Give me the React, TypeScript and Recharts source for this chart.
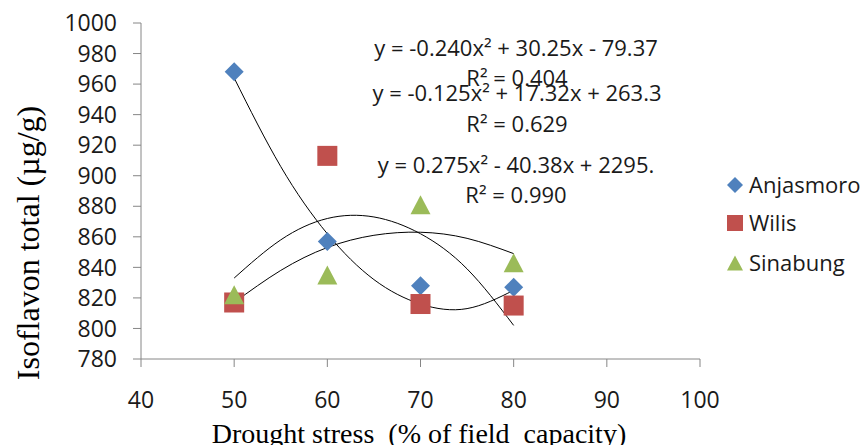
import React from 'react';
import { ComposedChart, Scatter, Line, XAxis, YAxis, Customized } from 'recharts';

// Measured points (drought stress % of field capacity -> isoflavon total µg/g)
const stressLevels = [50, 60, 70, 80];
const anjasmoro = [968, 857, 828, 827];
const wilis = [817, 913, 816, 815];
const sinabung = [822, 835, 881, 843];

// Polynomial trend lines
const trendX = [50, 55, 60, 65, 70, 75, 80];
const trendAnjasmoro = [964, 906, 862, 832, 816, 813, 825];
const trendWilis = [833, 858, 872, 873, 862, 839, 802];
const trendSinabung = [817, 838, 853, 861, 863, 859, 849];

const xTicks = [40, 50, 60, 70, 80, 90, 100];
const yTicks = [780, 800, 820, 840, 860, 880, 900, 920, 940, 960, 980, 1000];

const seriesNames = ['Anjasmoro', 'Wilis', 'Sinabung'];
const seriesColors = ['#4F81BD', '#C0504D', '#9BBB59'];
const equationLabels = [
  'y = -0.240x² + 30.25x - 79.37',
  'R² = 0.404',
  'y = -0.125x² + 17.32x + 263.3',
  'R² = 0.629',
  'y = 0.275x² - 40.38x + 2295.',
  'R² = 0.990',
];

const xTitle = 'Drought stress  (% of field  capacity)';
const yTitle = 'Isoflavon total (µg/g)';

const toPoints = (xs: number[], ys: number[]) => xs.map((x, i) => ({ x, y: ys[i] }));

const FONT = '"Open Sans", sans-serif';
const SERIF = '"Liberation Serif", "Times New Roman", serif';

const diamondPath = (cx: number, cy: number, r: number) =>
  `${cx},${cy - r} ${cx + r},${cy} ${cx},${cy + r} ${cx - r},${cy}`;
const trianglePath = (cx: number, cy: number, w: number, h: number) =>
  `${cx},${cy - h / 2} ${cx + w / 2},${cy + h / 2} ${cx - w / 2},${cy + h / 2}`;

const DiamondShape = (p: any) => (
  <polygon points={diamondPath(p.cx, p.cy, 9.5)} fill={seriesColors[0]} />
);
const SquareShape = (p: any) => (
  <rect x={p.cx - 10} y={p.cy - 10} width={20} height={20} fill={seriesColors[1]} />
);
const TriangleShape = (p: any) => (
  <polygon points={trianglePath(p.cx, p.cy, 20, 19)} fill={seriesColors[2]} />
);

const equationPos = [
  [516, 56],
  [517, 86],
  [517, 101],
  [517, 132],
  [516, 173],
  [516, 203],
];

const Overlay = () => {
  const legendRows = [185, 223, 263];
  return (
    <g>
      {equationLabels.map((t, i) => (
        <text
          key={i}
          x={equationPos[i][0]}
          y={equationPos[i][1]}
          textAnchor="middle"
          fontFamily={FONT}
          fontSize={22}
          fill="#1a1a1a"
        >
          {t}
        </text>
      ))}
      {seriesNames.map((name, i) => {
        const cy = legendRows[i];
        const cx = 735;
        let icon;
        if (i === 0) icon = <polygon points={diamondPath(cx, cy, 8)} fill={seriesColors[0]} />;
        else if (i === 1) icon = <rect x={cx - 8} y={cy - 8} width={16} height={16} fill={seriesColors[1]} />;
        else icon = <polygon points={trianglePath(cx, cy, 16, 15)} fill={seriesColors[2]} />;
        return (
          <g key={name}>
            {icon}
            <text x={749} y={cy + 8} fontFamily={FONT} fontSize={22} fill="#1a1a1a">
              {name}
            </text>
          </g>
        );
      })}
      <text
        x={419}
        y={443}
        textAnchor="middle"
        fontFamily={SERIF}
        fontSize={28}
        fill="#000"
        style={{ whiteSpace: 'pre' }}
      >
        {xTitle}
      </text>
      <text
        x={39}
        y={243}
        textAnchor="middle"
        fontFamily={SERIF}
        fontSize={32}
        fill="#000"
        transform="rotate(-90 39 243)"
      >
        {yTitle}
      </text>
    </g>
  );
};

export default function App() {
  const tickStyle = { fontFamily: FONT, fontSize: 23, fill: '#1a1a1a' };
  return (
    <div style={{ position: 'absolute', left: 0, top: 0 }}>
      <ComposedChart width={865} height={445} margin={{ top: 23, right: 165, bottom: 0, left: 0 }}>
        <XAxis
          type="number"
          dataKey="x"
          domain={[40, 100]}
          ticks={xTicks}
          interval={0}
          height={86}
          tickSize={8}
          tickMargin={25}
          stroke="#868686"
          tick={tickStyle}
          allowDataOverflow
        />
        <YAxis
          type="number"
          dataKey="y"
          domain={[780, 1000]}
          ticks={yTicks}
          interval={0}
          width={141}
          tickSize={8}
          tickMargin={16}
          stroke="#868686"
          tick={tickStyle}
          allowDataOverflow
        />
        <Scatter
          name={seriesNames[0]}
          data={toPoints(stressLevels, anjasmoro)}
          fill={seriesColors[0]}
          shape={DiamondShape}
          isAnimationActive={false}
        />
        <Scatter
          name={seriesNames[1]}
          data={toPoints(stressLevels, wilis)}
          fill={seriesColors[1]}
          shape={SquareShape}
          isAnimationActive={false}
        />
        <Scatter
          name={seriesNames[2]}
          data={toPoints(stressLevels, sinabung)}
          fill={seriesColors[2]}
          shape={TriangleShape}
          isAnimationActive={false}
        />
        <Line
          data={toPoints(trendX, trendAnjasmoro)}
          dataKey="y"
          type="natural"
          stroke="#000"
          strokeWidth={1}
          dot={false}
          activeDot={false}
          isAnimationActive={false}
        />
        <Line
          data={toPoints(trendX, trendWilis)}
          dataKey="y"
          type="natural"
          stroke="#000"
          strokeWidth={1}
          dot={false}
          activeDot={false}
          isAnimationActive={false}
        />
        <Line
          data={toPoints(trendX, trendSinabung)}
          dataKey="y"
          type="natural"
          stroke="#000"
          strokeWidth={1}
          dot={false}
          activeDot={false}
          isAnimationActive={false}
        />
        <Customized component={Overlay} />
      </ComposedChart>
    </div>
  );
}
